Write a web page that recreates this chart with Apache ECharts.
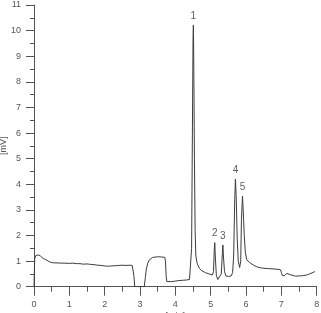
<!DOCTYPE html>
<html><head><meta charset="utf-8">
<script src="https://cdn.jsdelivr.net/npm/echarts@6/dist/echarts.min.js"></script>
<style>html,body{margin:0;padding:0;background:#fff}#c{width:321px;height:313px}</style>
</head><body><div id="c"></div>
<script>
// retention time [min] and signal [mV] of the chromatogram trace
const times = [0,0.02,0.05,0.08,0.1,0.12,0.15,0.18,0.2,0.23,0.26,0.3,0.33,0.36,0.4,0.43,0.46,0.5,0.55,0.6,0.65,0.7,0.75,0.8,0.85,0.9,1.0,1.1,1.2,1.3,1.4,1.5,1.6,1.7,1.8,1.9,2.0,2.1,2.2,2.3,2.4,2.5,2.6,2.7,2.78,2.8,2.83,2.85,3.12,3.15,3.18,3.22,3.26,3.3,3.35,3.4,3.5,3.6,3.7,3.72,3.74,3.76,3.8,3.9,4.0,4.1,4.2,4.3,4.4,4.44,4.46,4.48,4.5,4.51,4.52,4.54,4.56,4.58,4.62,4.68,4.75,4.85,4.95,5.05,5.08,5.1,5.115,5.13,5.16,5.2,5.25,5.3,5.33,5.345,5.36,5.39,5.43,5.5,5.58,5.62,5.65,5.68,5.7,5.72,5.75,5.78,5.82,5.85,5.87,5.9,5.92,5.95,5.98,6.02,6.1,6.2,6.3,6.4,6.5,6.6,6.7,6.8,6.9,6.98,7.0,7.03,7.1,7.15,7.2,7.25,7.3,7.4,7.5,7.6,7.7,7.8,7.9,7.95];
const signal = [0,1.1,1.22,1.26,1.2,1.24,1.18,1.2,1.14,1.16,1.1,1.08,1.06,1.03,1.0,0.99,0.96,0.95,0.93,0.96,0.93,0.94,0.92,0.94,0.92,0.93,0.91,0.92,0.9,0.9,0.88,0.89,0.87,0.86,0.84,0.83,0.81,0.8,0.81,0.82,0.83,0.84,0.83,0.84,0.83,0.8,0.4,0,0,0.35,0.7,0.92,1.04,1.1,1.14,1.16,1.17,1.16,1.15,1.0,0.4,0.2,0.18,0.2,0.22,0.24,0.25,0.26,0.28,0.3,1.5,5.5,9.6,10.22,9.0,5.0,2.2,1.2,0.9,0.72,0.62,0.55,0.5,0.46,0.6,1.4,1.72,1.2,0.45,0.28,0.3,0.5,1.3,1.63,1.2,0.6,0.42,0.4,0.42,0.55,1.2,3.4,4.2,3.6,1.9,1.0,0.75,1.0,2.6,3.54,3.0,2.0,1.35,1.05,0.95,0.85,0.78,0.74,0.72,0.71,0.7,0.69,0.68,0.66,0.55,0.43,0.44,0.52,0.55,0.47,0.42,0.41,0.42,0.43,0.45,0.5,0.56,0.59];
// peak annotations
const peakNames = ['1','2','3','4','5'];
const peakTimes = [4.51,5.115,5.345,5.7,5.9];
const peakHeights = [10.22,1.72,1.63,4.2,3.54];
const xTicks = [0,1,2,3,4,5,6,7,8];
const yTicks = [0,1,2,3,4,5,6,7,8,9,10,11];

const trace = times.map((t,i)=>[t,signal[i]]);
const peaks = peakTimes.map((t,i)=>({value:[t,peakHeights[i]],name:peakNames[i]}));
const axisCol = '#555';
const font = 'Liberation Sans, Arial, sans-serif';
const chart = echarts.init(document.getElementById('c'),null,{renderer:'canvas'});
chart.setOption({
  animation:false,
  backgroundColor:'#fff',
  grid:{left:34,right:4.3,top:5,bottom:26.3,containLabel:false,outerBoundsMode:'none'},
  xAxis:{type:'value',min:xTicks[0],max:xTicks[xTicks.length-1],interval:1,
    name:'[min]',nameLocation:'middle',nameGap:25,nameMoveOverlap:false,
    nameTextStyle:{color:'#555',fontSize:9,fontFamily:font},
    axisLine:{onZero:false,lineStyle:{color:axisCol,width:1}},
    axisTick:{show:true,length:9,lineStyle:{color:axisCol}},
    minorTick:{show:true,splitNumber:2,length:5,lineStyle:{color:axisCol}},
    splitLine:{show:false},
    axisLabel:{color:'#555',fontSize:9,fontFamily:font,margin:13}},
  yAxis:{type:'value',min:yTicks[0],max:yTicks[yTicks.length-1],interval:1,
    name:'[mV]',nameLocation:'middle',nameGap:26,nameRotate:90,nameMoveOverlap:false,
    nameTextStyle:{color:'#555',fontSize:9,fontFamily:font},
    axisLine:{show:true,lineStyle:{color:axisCol,width:1}},
    axisTick:{show:true,length:8,lineStyle:{color:axisCol}},
    minorTick:{show:true,splitNumber:2,length:4,lineStyle:{color:axisCol}},
    splitLine:{show:false},
    axisLabel:{color:'#555',fontSize:9,fontFamily:font,margin:13}},
  series:[
    {type:'line',data:trace,showSymbol:false,symbol:'none',
     lineStyle:{color:'#3c3c3c',width:1},z:3},
    {type:'scatter',data:peaks,symbolSize:0,
     label:{show:true,position:'top',distance:4,formatter:p=>p.name,
       color:'#333',fontSize:10,fontFamily:font},z:4}
  ]
});
</script></body></html>
